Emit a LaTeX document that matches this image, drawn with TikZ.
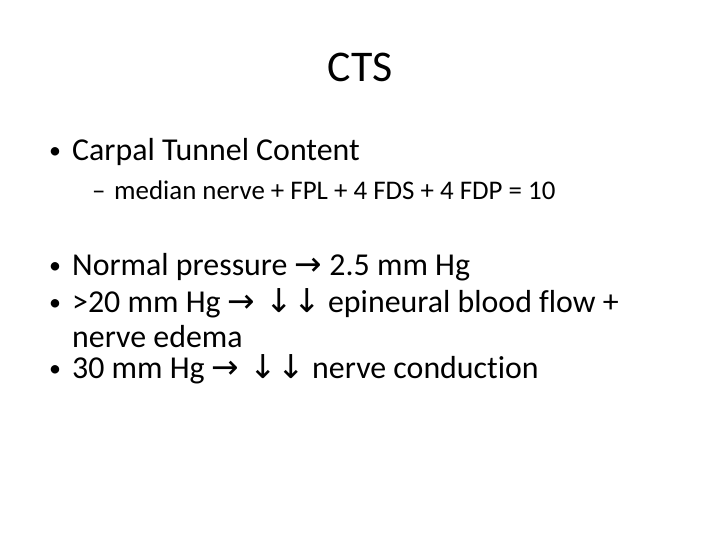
\documentclass[tikz,border=0pt]{standalone}
\usepackage{fontspec}
\setmainfont{Carlito}[Ligatures={NoCommon}]
\newfontfamily\arr{DejaVu Sans}
\newcommand{\ar}[1]{{\arr\fontsize{33}{36}\selectfont #1}}
\begin{document}
\begin{tikzpicture}[x=1bp,y=-1bp,
  tx/.style={anchor=base west,inner sep=0pt,font=\fontsize{32}{38}\selectfont},
  bul/.style={anchor=base west,inner sep=0pt,font=\fontsize{24}{28}\selectfont},
  sub/.style={anchor=base west,inner sep=0pt,font=\fontsize{27}{31}\selectfont}]
\useasboundingbox (0,0) rectangle (720,540);
\node[anchor=base,inner sep=0pt,font=\fontsize{44}{52}\selectfont] (title) at (360,82) {CTS};
\node[bul] (b1) at (49,159) {•};
\node[tx] (t1) at (72,161) {Carpal Tunnel Content};
\node[sub] (b2) at (92,200) {–};
\node[sub] (t2) at (114,200) {median nerve + FPL + 4 FDS + 4 FDP = 10};
\node[bul] (b3) at (49,274) {•};
\node[tx] (t3) at (72,276) {Normal pressure \ar{→} 2.5 mm Hg};
\node[bul] (b4) at (49,310) {•};
\node[tx] (t4) at (72,312) {>20 mm Hg \ar{→ ↓↓} epineural blood flow +};
\node[tx] (t5) at (72,347) {nerve edema};
\node[bul] (b6) at (49,376) {•};
\node[tx] (t6) at (72,378) {30 mm Hg \ar{→ ↓↓} nerve conduction};
\end{tikzpicture}
\end{document}
